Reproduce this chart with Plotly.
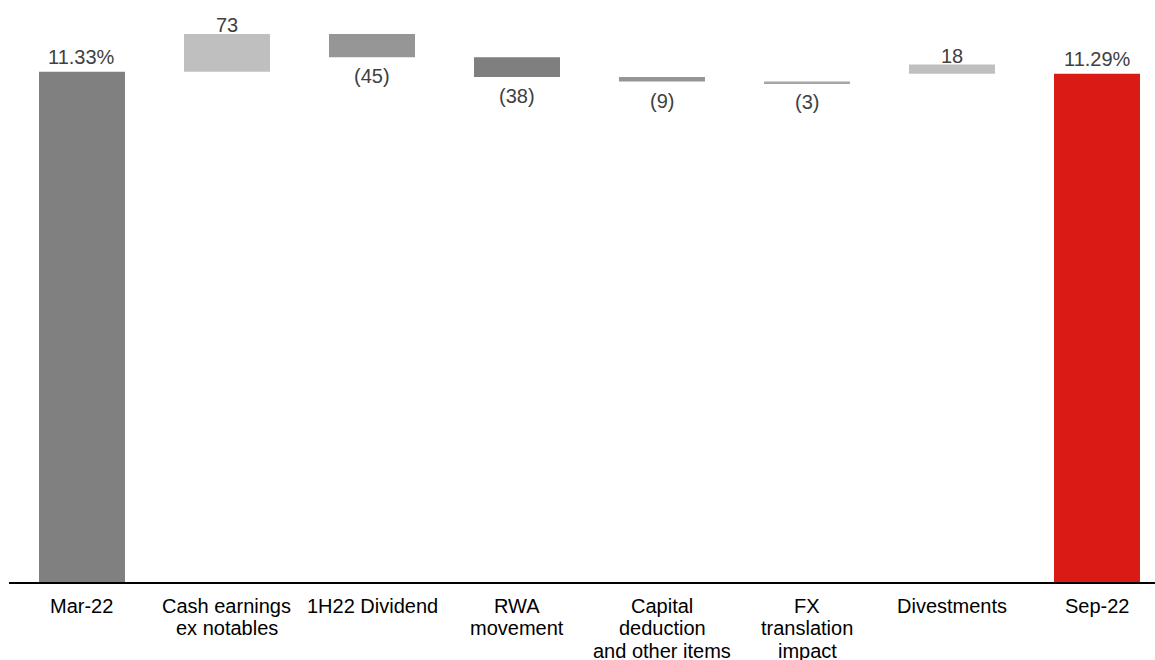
import plotly.graph_objects as go

# CET1 ratio walk, Mar-22 to Sep-22 (steps in basis points)
open_label = "Mar-22"
close_label = "Sep-22"
open_ratio = 11.33
close_ratio = 11.29

step_labels = [
    "Cash earnings\nex notables",
    "1H22 Dividend",
    "RWA\nmovement",
    "Capital\ndeduction\nand other items",
    "FX\ntranslation\nimpact",
    "Divestments",
]
step_bps = [73, -45, -38, -9, -3, 18]

bar_colors = ["#808080", "#BFBFBF", "#969696", "#7F7F7F",
              "#969696", "#A6A6A6", "#BFBFBF", "#DA1A14"]

FONT = "Arial, Liberation Sans, sans-serif"
VALUE_COLOR = "#404040"
SIZE = 20

# ---- bar geometry from the values ----
categories = [open_label] + step_labels + [close_label]
bases, heights, ends, signs = [0], [open_ratio], [open_ratio], [1]
level = open_ratio
for bps in step_bps:
    nxt = level + bps / 100.0
    bases.append(min(level, nxt))
    heights.append(abs(bps) / 100.0)
    ends.append(max(level, nxt) if bps >= 0 else min(level, nxt))
    signs.append(1 if bps >= 0 else -1)
    level = nxt
# the divestments step is shown resting on the closing ratio
bases[-1] = close_ratio
ends[-1] = close_ratio + step_bps[-1] / 100.0
bases.append(0)
heights.append(close_ratio)
ends.append(close_ratio)
signs.append(1)

xs = list(range(len(categories)))

fig = go.Figure(go.Bar(
    x=xs, y=heights, base=bases, width=0.593,
    marker=dict(color=bar_colors, line=dict(width=0)),
    hoverinfo="skip",
))

annotations = []
value_texts = ["%.2f%%" % open_ratio] + [
    (str(b) if b >= 0 else "(%d)" % abs(b)) for b in step_bps
] + ["%.2f%%" % close_ratio]
for i, (x, e, s, t) in enumerate(zip(xs, ends, signs, value_texts)):
    total = i in (0, len(xs) - 1)
    if s > 0:
        annotations.append(dict(
            x=x, y=e, xref="x", yref="y", text=t, showarrow=False,
            yanchor="bottom", yshift=(2 if total else -4),
            font=dict(family=FONT, size=SIZE, color=VALUE_COLOR)))
    else:
        annotations.append(dict(
            x=x, y=e, xref="x", yref="y", text=t, showarrow=False,
            yanchor="top", yshift=-6,
            font=dict(family=FONT, size=SIZE, color=VALUE_COLOR)))

# category names, one annotation per line for tight line spacing
for x, name in zip(xs, categories):
    for j, line in enumerate(name.split("\n")):
        annotations.append(dict(
            x=x, y=0, xref="x", yref="paper", text=line, showarrow=False,
            yanchor="top", yshift=-11 - j * 22.3,
            font=dict(family=FONT, size=SIZE, color="#000000")))

fig.update_layout(
    width=1155, height=660,
    margin=dict(l=9, r=0, t=0, b=78),
    paper_bgcolor="white", plot_bgcolor="white",
    showlegend=False,
    annotations=annotations,
    xaxis=dict(range=[-0.5034, 7.4], showline=True, linecolor="#000000",
               linewidth=1.5, showticklabels=False, ticks="",
               showgrid=False, zeroline=False, fixedrange=True),
    yaxis=dict(range=[1.441, 12.72], visible=False, showgrid=False,
               zeroline=False, fixedrange=True),
)

fig.write_html("out.html", config={"displayModeBar": False})
